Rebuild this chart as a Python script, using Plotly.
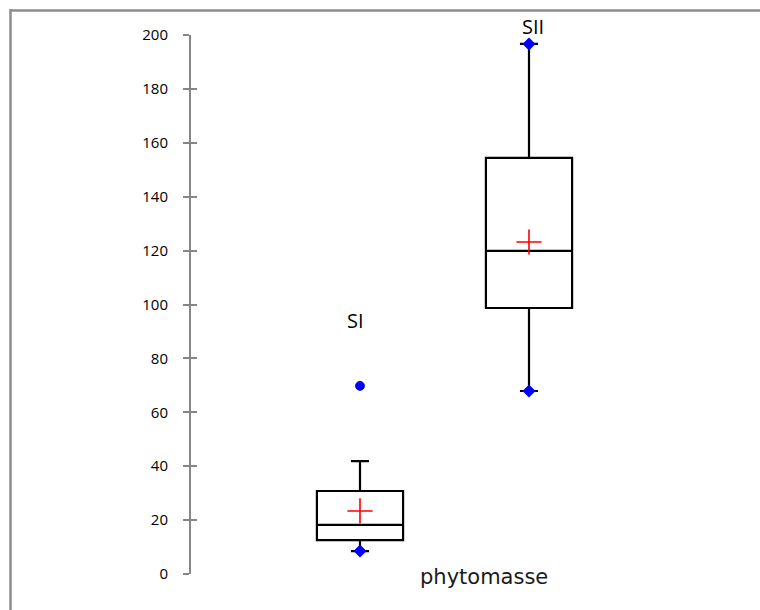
import plotly.graph_objects as go

# Box statistics for the two stations (phytomasse)
categories = ["SI", "SII"]
positions = [1, 2]
q1 = [12.6, 98.7]
median = [18.2, 119.9]
q3 = [30.8, 154.4]
lower_whisker = [8.5, 67.9]
upper_whisker = [41.9, 196.7]
means = [23.4, 123.2]
minimum = [8.5, 67.9]
maximum = [69.8, 196.7]
outliers_si = [69.8]
label_heights = [94, 200]
label_yshifts = [0, 9]
label_xshifts = [-5, 4]
tick_values = [0, 20, 40, 60, 80, 100, 120, 140, 160, 180, 200]

AXIS_GRAY = "#868686"

fig = go.Figure()

for pos, a, m, b, lo, hi in zip(positions, q1, median, q3, lower_whisker, upper_whisker):
    fig.add_trace(go.Box(
        x=[pos], q1=[a], median=[m], q3=[b], lowerfence=[lo], upperfence=[hi],
        width=0.51, whiskerwidth=0.21,
        line=dict(color="black", width=2.2),
        fillcolor="rgba(0,0,0,0)",
        boxpoints=False, hoverinfo="skip", showlegend=False,
    ))

# Means as red crosses
fig.add_trace(go.Scatter(
    x=positions, y=means, mode="markers", showlegend=False,
    marker=dict(symbol="cross-thin", size=18, line=dict(color="red", width=1.6)),
))

# Minimum / maximum markers
fig.add_trace(go.Scatter(
    x=positions + [2], y=minimum + [maximum[1]], mode="markers", showlegend=False,
    marker=dict(symbol="diamond", size=10, color="blue"),
))

# Outlier
fig.add_trace(go.Scatter(
    x=[1] * len(outliers_si), y=outliers_si, mode="markers", showlegend=False,
    marker=dict(symbol="circle", size=9, color="blue",
                line=dict(color="#000080", width=0.8)),
))

# Inside half of the crossing tick marks
fig.add_trace(go.Scatter(x=[None], y=[None], xaxis="x", yaxis="y2", showlegend=False))

annotations = [
    dict(x=p, y=h, xref="x", yref="y", text=c, showarrow=False,
         xshift=dx, yshift=dy,
         font=dict(family="Open Sans", size=20, color="black"))
    for p, h, dx, dy, c in zip(positions, label_heights, label_xshifts,
                               label_yshifts, categories)
]
annotations.append(dict(
    x=1.735, y=0, xref="x", yref="y", text="phytomasse", showarrow=False,
    yshift=-3, font=dict(family="DejaVu Sans", size=21, color="#1a1a1a"),
))

fig.update_layout(
    width=760, height=610,
    margin=dict(l=191, r=62, t=35, b=36),
    paper_bgcolor="white", plot_bgcolor="white",
    xaxis=dict(range=[0, 3], visible=False, fixedrange=True),
    yaxis=dict(
        range=[0, 200], tickvals=tick_values, showgrid=False, zeroline=False,
        showline=True, linecolor=AXIS_GRAY, linewidth=2,
        ticks="outside", ticklen=6, tickwidth=2, tickcolor=AXIS_GRAY,
        ticklabelstandoff=12,
        tickfont=dict(family="Open Sans", size=15, color="black"),
    ),
    yaxis2=dict(
        range=[0, 200], tickvals=tick_values, overlaying="y", side="left",
        anchor="x", showgrid=False, zeroline=False, showline=False,
        showticklabels=False,
        ticks="inside", ticklen=6, tickwidth=2, tickcolor=AXIS_GRAY,
    ),
    annotations=annotations,
    shapes=[
        # chart frame (top and left edges)
        dict(type="line", xref="paper", yref="paper",
             x0=(10 - 191) / 507, x1=(765 - 191) / 507,
             y0=(574 - 10.5) / 539, y1=(574 - 10.5) / 539,
             line=dict(color="#8c8c8c", width=2.5)),
        dict(type="line", xref="paper", yref="paper",
             x0=(10.5 - 191) / 507, x1=(10.5 - 191) / 507,
             y0=(574 - 9) / 539, y1=(574 - 615) / 539,
             line=dict(color="#8c8c8c", width=2.5)),
    ],
)

fig.write_html("out.html")
